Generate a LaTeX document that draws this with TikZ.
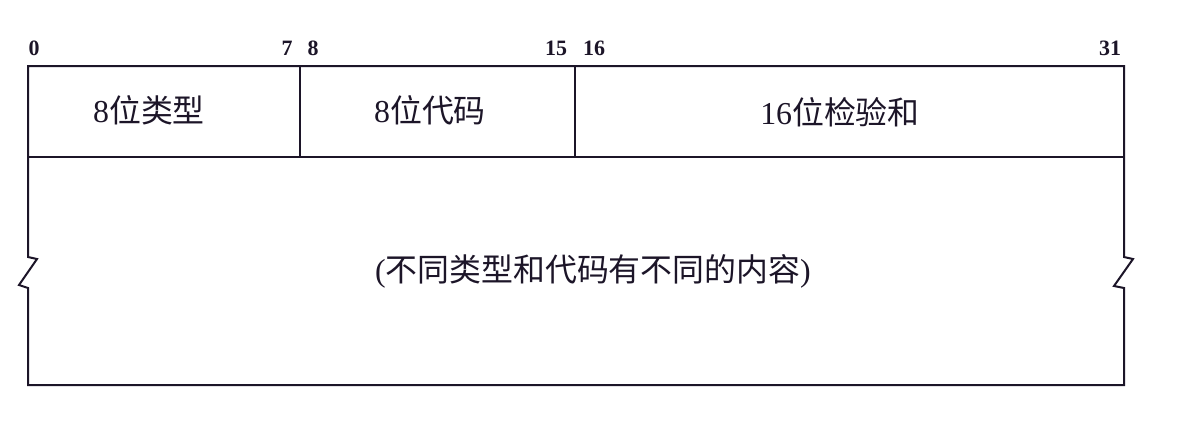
\documentclass[tikz,border=0pt]{standalone}
\usepackage{fontspec}
\setmainfont{Liberation Serif}
\newfontfamily\cjk{Noto Sans CJK SC}
\definecolor{ink}{HTML}{1C1528}
\tikzset{
  frame/.style={draw=ink, line width=2bp, line join=miter},
  bitnum/.style={font=\fontsize{22}{25}\selectfont\bfseries, text=ink, inner sep=0pt, anchor=center},
  field/.style={font=\fontsize{32}{36}\selectfont, text=ink, inner sep=0pt, anchor=center}
}
\begin{document}
\begin{tikzpicture}[x=1bp, y=-1bp]
\useasboundingbox (0,0) rectangle (1180,424);
\fill[white] (0,0) rectangle (1180,424);
% corners and break points
\coordinate (tl) at (28,66);
\coordinate (tr) at (1124,66);
\coordinate (br) at (1124,385);
\coordinate (bl) at (28,385);
\coordinate (ml) at (28,157);
\coordinate (mr) at (1124,157);
\coordinate (d1t) at (300,66);
\coordinate (d1b) at (300,157);
\coordinate (d2t) at (575,66);
\coordinate (d2b) at (575,157);
% outline with break marks
\draw[frame] (tl) -- (tr) -- (1124,257) -- (1133,259) -- (1114,286) -- (1124,288)
  -- (br) -- (bl) -- (28,288) -- (19,285) -- (37,259) -- (28,257) -- cycle;
\draw[frame] (ml) -- (mr);
\draw[frame] (d1t) -- (d1b);
\draw[frame] (d2t) -- (d2b);
% bit numbers
\node[bitnum] (n0) at (34,48) {0};
\node[bitnum] (n7) at (287,48) {7};
\node[bitnum] (n8) at (313,48) {8};
\node[bitnum] (n15) at (556,48) {15};
\node[bitnum] (n16) at (594,48) {16};
\node[bitnum] (n31) at (1110,48) {31};
% fields
\node[field] (type) at (149,110) {8{\cjk 位类型}};
\node[field] (code) at (430,110) {8{\cjk 位代码}};
\node[field] (sum) at (840,112) {16{\cjk 位检验和}};
\node[field] (rest) at (593,271) {({\cjk 不同类型和代码有不同的内容})};
\end{tikzpicture}
\end{document}
